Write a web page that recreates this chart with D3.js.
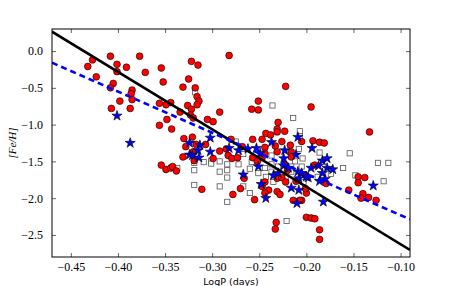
<!DOCTYPE html>
<html><head><meta charset="utf-8">
<script src="https://cdn.jsdelivr.net/npm/d3@7"></script>
<style>body{margin:0;background:#fff}svg{display:block}</style>
</head><body>
<script>
// ---- data ----
const xTicks = [-0.45,-0.40,-0.35,-0.30,-0.25,-0.20,-0.15,-0.10];
const yTicks = [0.0,-0.5,-1.0,-1.5,-2.0,-2.5];
const xLabel = "LogP (days)";
const yLabel = "[Fe/H]";

const circleX = [-0.408,-0.427,-0.432,-0.401,-0.401,-0.391,-0.377,-0.371,-0.423,-0.405,-0.408,-0.385,-0.386,-0.398,-0.385,-0.407,-0.387,
 -0.354,-0.352,-0.322,-0.315,-0.282,-0.325,-0.331,-0.318,-0.316,-0.314,-0.316,-0.326,-0.344,-0.356,-0.349,-0.322,-0.334,-0.323,-0.320,-0.348,
 -0.292,-0.305,-0.299,-0.356,-0.343,-0.330,-0.321,-0.222,-0.251,-0.258,-0.251,-0.195,-0.230,-0.231,-0.231,-0.223,-0.243,-0.238,-0.257,-0.280,
 -0.133,-0.193,-0.186,-0.181,-0.191,-0.145,-0.138,-0.145,-0.179,-0.155,-0.140,-0.142,-0.134,-0.126,-0.200,-0.205,-0.200,-0.195,-0.191,-0.186,-0.186,
 -0.328,-0.317,-0.307,-0.320,-0.292,-0.285,-0.331,-0.319,-0.299,-0.354,-0.349,-0.344,-0.342,-0.338,-0.311,
 -0.247,-0.226,-0.217,-0.205,-0.268,-0.244,-0.233,-0.216,-0.283,-0.279,-0.273,-0.257,-0.244,-0.247,-0.231,-0.216,-0.252,-0.223,-0.220,
 -0.266,-0.231,-0.226,-0.201,-0.247,-0.244,-0.222,-0.211,-0.201,-0.240,-0.270,-0.278,-0.244,-0.231,-0.228,-0.214,-0.207,-0.255,-0.232,-0.233];
const circleY = [-0.07,-0.12,-0.21,-0.18,-0.28,-0.22,-0.07,-0.29,-0.35,-0.44,-0.50,-0.53,-0.58,-0.68,-0.66,-0.78,-0.78,
 -0.23,-0.42,-0.14,-0.19,-0.06,-0.38,-0.49,-0.50,-0.62,-0.68,-0.73,-0.74,-0.70,-0.71,-0.73,-0.79,-0.83,-0.87,-0.91,-0.93,
 -0.83,-0.93,-0.96,-1.01,-1.06,-1.19,-1.17,-0.48,-0.68,-0.79,-0.80,-0.76,-0.97,-1.06,-1.10,-1.09,-1.12,-1.14,-1.20,-1.20,
 -1.10,-1.22,-1.24,-1.25,-1.55,-1.71,-1.72,-1.79,-1.80,-1.89,-1.94,-2.00,-1.99,-2.03,-1.93,-2.03,-2.26,-2.27,-2.28,-2.43,-2.56,
 -1.30,-1.27,-1.27,-1.37,-1.36,-1.33,-1.44,-1.49,-1.46,-1.55,-1.61,-1.59,-1.57,-1.63,-1.88,
 -1.20,-1.23,-1.28,-1.23,-1.30,-1.31,-1.29,-1.37,-1.42,-1.46,-1.45,-1.45,-1.39,-1.45,-1.37,-1.44,-1.50,-1.54,-1.62,
 -1.73,-1.73,-1.72,-1.69,-1.84,-1.78,-1.78,-1.77,-1.87,-1.89,-1.87,-1.95,-1.93,-1.91,-1.95,-2.03,-2.03,-2.02,-2.33,-2.42];

const starX = [-0.401,-0.387,-0.302,-0.209,-0.324,-0.313,-0.315,-0.302,-0.324,-0.321,-0.314,-0.237,-0.282,-0.272,-0.262,-0.253,
 -0.223,-0.194,-0.249,-0.224,-0.211,-0.251,-0.224,-0.195,-0.219,-0.209,-0.205,-0.267,-0.235,-0.230,-0.208,-0.198,-0.248,-0.216,
 -0.208,-0.243,-0.210,-0.183,-0.178,-0.187,-0.178,-0.172,-0.183,-0.186,-0.180,-0.129,-0.182,-0.200];
const starY = [-0.88,-1.25,-1.18,-1.17,-1.25,-1.28,-1.35,-1.37,-1.41,-1.42,-1.45,-1.24,-1.32,-1.35,-1.33,-1.32,
 -1.35,-1.32,-1.39,-1.46,-1.41,-1.57,-1.56,-1.59,-1.59,-1.64,-1.66,-1.68,-1.69,-1.66,-1.73,-1.72,-1.81,-1.86,
 -1.89,-2.00,-2.07,-1.49,-1.46,-1.56,-1.59,-1.61,-1.66,-1.77,-1.74,-1.83,-2.05,-1.71];

const squareX = [-0.318,-0.236,-0.214,-0.207,-0.186,-0.154,-0.124,-0.113,-0.161,-0.174,-0.148,-0.118,-0.337,-0.319,-0.319,-0.309,
 -0.301,-0.301,-0.292,-0.292,-0.284,-0.284,-0.284,-0.319,-0.292,-0.284,-0.275,-0.267,-0.237,-0.222,-0.204,-0.272,-0.258,-0.237,
 -0.230,-0.212,-0.205,-0.216,-0.260,-0.244,-0.237,-0.216,-0.251,-0.243,-0.222,-0.235,-0.203,-0.267,-0.260,-0.221,-0.207,-0.188,-0.208];
const squareY = [-0.56,-0.74,-0.91,-1.09,-1.38,-1.39,-1.52,-1.52,-1.59,-1.67,-1.69,-1.77,-1.59,-1.52,-1.62,-1.51,
 -1.49,-1.53,-1.50,-1.64,-1.54,-1.62,-1.72,-1.82,-1.84,-2.05,-1.23,-1.40,-1.42,-1.41,-1.46,-1.54,-1.51,-1.54,
 -1.57,-1.50,-1.57,-1.57,-1.60,-1.59,-1.64,-1.64,-1.66,-1.71,-1.72,-1.78,-1.78,-1.84,-1.93,-2.31,-1.16,-1.71,-1.33];

// fit lines (end points at the axis limits)
const lineX = [-0.47, -0.09];
const solidLineY = [0.263, -2.705];
const dashedLineY = [-0.158, -2.287];

// ---- layout ----
const W = 463, H = 286;
const m = {left: 52, right: 463-410, top: 29, bottom: 286-257};
const svg = d3.select("body").append("svg").attr("width", W).attr("height", H);

const x = d3.scaleLinear().domain([-0.47, -0.09]).range([m.left, W - m.right]);
const y = d3.scaleLinear().domain([-2.8, 0.3]).range([H - m.bottom, m.top]);

const g = svg.append("g");

svg.append("clipPath").attr("id","clip").append("rect")
  .attr("x", m.left).attr("y", m.top).attr("width", x.range()[1]-m.left).attr("height", y.range()[0]-m.top);

const plot = g.append("g").attr("clip-path","url(#clip)");

// squares
const sq = 5.2;
plot.selectAll("rect.sq").data(squareX.map((d,i)=>[d,squareY[i]])).join("rect")
  .attr("class","sq")
  .attr("x", d => x(d[0]) - sq/2).attr("y", d => y(d[1]) - sq/2)
  .attr("width", sq).attr("height", sq)
  .attr("fill","#fff").attr("stroke","#555").attr("stroke-width",0.8);

// circles
plot.selectAll("circle.c").data(circleX.map((d,i)=>[d,circleY[i]])).join("circle")
  .attr("class","c")
  .attr("cx", d => x(d[0])).attr("cy", d => y(d[1])).attr("r", 3.4)
  .attr("fill","#ff0000").attr("stroke","#000").attr("stroke-width",0.6);

// stars
const star = d3.symbol().type(d3.symbolStar).size(32);
plot.selectAll("path.st").data(starX.map((d,i)=>[d,starY[i]])).join("path")
  .attr("class","st")
  .attr("transform", d => `translate(${x(d[0])},${y(d[1])})`)
  .attr("d", star)
  .attr("fill","#0000ff").attr("stroke","#000").attr("stroke-width",0.6);

// lines
const ln = d3.line().x(d => x(d[0])).y(d => y(d[1]));
plot.append("path").datum(lineX.map((d,i)=>[d,solidLineY[i]]))
  .attr("d", ln).attr("stroke","#000").attr("stroke-width",2.6).attr("fill","none");
plot.append("path").datum(lineX.map((d,i)=>[d,dashedLineY[i]]))
  .attr("d", ln).attr("stroke","#0000ff").attr("stroke-width",2.6).attr("fill","none")
  .attr("stroke-dasharray","6,4");

// axes
const fmtX = d => d3.format(".2f")(d).replace("-", "\u2212");
const fmtY = d => d3.format(".1f")(d).replace("-", "\u2212");
const tickFont = "'Liberation Serif', 'Times New Roman', serif";

const xb = g.append("g").attr("transform", `translate(0,${y.range()[0]})`)
  .call(d3.axisBottom(x).tickValues(xTicks).tickSize(-4).tickPadding(5).tickFormat(fmtX));
const xt = g.append("g").attr("transform", `translate(0,${m.top})`)
  .call(d3.axisTop(x).tickValues(xTicks).tickSize(-4).tickFormat(""));
const yl = g.append("g").attr("transform", `translate(${m.left},0)`)
  .call(d3.axisLeft(y).tickValues(yTicks).tickSize(-4).tickPadding(9).tickFormat(fmtY));
const yr = g.append("g").attr("transform", `translate(${x.range()[1]},0)`)
  .call(d3.axisRight(y).tickValues(yTicks).tickSize(-4).tickFormat(""));

[xb,xt,yl,yr].forEach(a => {
  a.select(".domain").remove();
  a.selectAll(".tick line").attr("stroke","#000").attr("stroke-width",0.6);
  a.selectAll("text").attr("font-family", tickFont).attr("font-size", 12).attr("fill","#000");
});

g.append("rect").attr("x", m.left).attr("y", m.top)
  .attr("width", x.range()[1]-m.left).attr("height", y.range()[0]-m.top)
  .attr("fill","none").attr("stroke","#000").attr("stroke-width",1);

svg.append("text").attr("x", (m.left + x.range()[1])/2).attr("y", 284.5)
  .attr("text-anchor","middle").attr("font-family","'DejaVu Sans', sans-serif").attr("font-size",9.5)
  .text(xLabel);

svg.append("text").attr("transform", `translate(16,${(m.top + y.range()[0])/2}) rotate(-90)`)
  .attr("text-anchor","middle").attr("font-family", tickFont).attr("font-style","italic").attr("font-size",11)
  .text(yLabel);
</script>
</body></html>
